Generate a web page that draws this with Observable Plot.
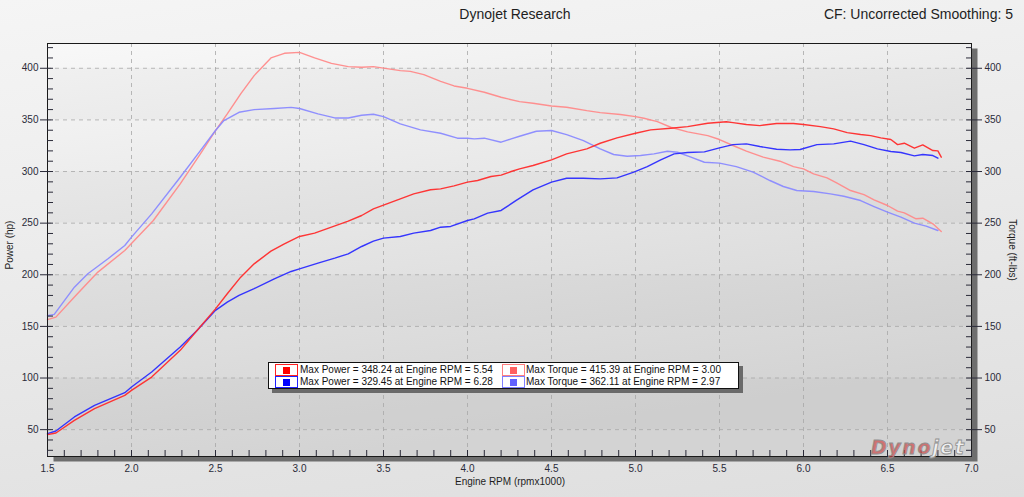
<!DOCTYPE html>
<html><head><meta charset="utf-8">
<script src="https://cdn.jsdelivr.net/npm/d3@7"></script>
<script src="https://cdn.jsdelivr.net/npm/@observablehq/plot@0.6"></script>
<style>
html,body{margin:0;padding:0;}
body{width:1024px;height:497px;overflow:hidden;background:linear-gradient(172deg,#f5f5f5 0%,#ebebeb 45%,#dedede 100%);font-family:"Liberation Sans",Arial,sans-serif;}
#wrap{position:relative;width:1024px;height:497px;}
#wrap svg{position:absolute;left:0;top:0;overflow:visible;}
.t{position:absolute;white-space:nowrap;color:#1e1e1e;line-height:1;}
#legend{position:absolute;left:268px;top:362px;width:469px;height:25px;background:#fff;border:1px solid #111;box-shadow:4px 4px 0 #6a6a6a;}
.sw{position:absolute;width:21px;height:10px;border:1px solid;}
.sw i{position:absolute;left:7px;top:2px;width:7px;height:7px;}
.lt{position:absolute;font-size:10px;line-height:12px;color:#111;white-space:nowrap;}
#logo{position:absolute;left:871px;top:436px;font:italic 900 19px "DejaVu Sans",sans-serif;letter-spacing:1.6px;white-space:nowrap;}
</style></head>
<body><div id="wrap"></div>
<script>
// ---- data ----
const torqueRedRpm = [1.50,1.55,1.66,1.80,1.96,2.13,2.29,2.41,2.50,2.57,2.65,2.73,2.83,2.91,3.00,3.09,3.19,3.29,3.37,3.44,3.52,3.60,3.66,3.74,3.84,3.92,4.00,4.10,4.20,4.31,4.39,4.50,4.59,4.71,4.79,4.91,5.00,5.05,5.13,5.21,5.31,5.43,5.50,5.58,5.66,5.76,5.86,5.94,6.00,6.06,6.14,6.20,6.28,6.36,6.42,6.50,6.56,6.60,6.67,6.71,6.77,6.82];
const torqueRed    = [156.5,159,178.4,202.6,223.5,252.6,288,317,339.7,355.8,375.2,392.9,410,414.5,415.4,410,404.8,401.6,401,401.6,399.7,397.7,397,393.9,387.4,382.9,380.6,376.8,371.9,367.7,366.1,363.5,362.3,359,357.1,355.2,353.2,351.6,348.4,342.9,338.4,334.8,331,325.2,319.7,313.9,310,304.8,302.6,297.7,293.9,288.7,281.6,277.7,272.6,267.1,261.6,260,254.2,254.8,249.4,241.9];

const torqueBlueRpm = [1.50,1.54,1.66,1.74,1.86,1.96,2.00,2.12,2.29,2.41,2.50,2.55,2.64,2.73,2.85,2.95,3.00,3.11,3.21,3.29,3.37,3.44,3.50,3.60,3.72,3.84,3.94,4.00,4.04,4.10,4.20,4.26,4.31,4.41,4.50,4.59,4.69,4.79,4.87,4.95,5.03,5.11,5.19,5.25,5.33,5.41,5.50,5.60,5.70,5.80,5.88,5.96,6.06,6.16,6.24,6.34,6.42,6.50,6.58,6.66,6.73,6.80];
const torqueBlue    = [160.3,161.6,188,201,215.5,228.4,236.5,259,294.5,320.3,339.7,349.4,357.4,360,361,362.1,361,355.8,351.9,351.9,354.5,355.5,353.2,346.1,340.3,337.1,332.3,332.3,331.6,332.3,328.4,331.6,334.2,339,339.7,335.8,330,321.9,316.5,314.8,315.5,317.1,319.7,318.7,313.9,309,308.1,304.8,299.4,291.3,285.5,281.6,280.6,278.4,276.1,271.9,266.1,260.6,255.8,250,247.1,242.9];

const powerRedRpm = [1.50,1.55,1.66,1.78,1.96,2.00,2.12,2.29,2.39,2.50,2.57,2.65,2.73,2.83,2.91,3.00,3.09,3.19,3.29,3.37,3.44,3.52,3.60,3.68,3.78,3.84,3.92,4.00,4.06,4.14,4.20,4.26,4.31,4.39,4.50,4.59,4.71,4.79,4.89,5.00,5.09,5.21,5.31,5.43,5.54,5.58,5.66,5.74,5.84,5.94,6.00,6.10,6.18,6.26,6.34,6.40,6.46,6.52,6.56,6.60,6.66,6.71,6.77,6.80,6.82];
const powerRed    = [45.2,46.8,59,70.3,83.2,88,100.9,126.8,146,167,181.6,197.7,210.6,222.9,230,237.1,240.3,246.1,251.9,257.4,263.9,268.7,273.5,278.4,282.3,283.2,286.1,289.7,291.3,295.2,296.5,300,302.6,305.8,311.3,317.1,322,327.4,332.6,337.1,340.3,341.9,343.5,346.8,348.2,347.4,345.5,344.5,346.5,346.5,345.5,343.5,341.3,337.7,335.8,334.8,332.6,331,326.1,327.4,322.6,325.8,320.3,320,313.9];

const powerBlueRpm = [1.50,1.55,1.66,1.78,1.96,2.00,2.12,2.29,2.39,2.50,2.57,2.64,2.73,2.85,2.95,3.00,3.11,3.21,3.29,3.37,3.44,3.50,3.60,3.68,3.78,3.84,3.90,4.00,4.04,4.12,4.20,4.29,4.39,4.50,4.59,4.69,4.79,4.89,4.99,5.07,5.15,5.23,5.31,5.41,5.50,5.58,5.66,5.74,5.84,5.92,5.98,6.08,6.18,6.28,6.36,6.44,6.52,6.58,6.66,6.71,6.77,6.80];
const powerBlue    = [46.1,48.7,62.3,73.5,85.8,91.3,105.8,130,146,165.5,173.5,180,186.5,196.1,203.2,205.8,211.3,216.1,220.3,227.4,232.6,235.5,237.1,240.3,242.9,246.1,246.8,252.6,254.2,259.7,262.3,272,282.3,289.7,293.5,293.5,292.9,293.9,299.4,304.8,311.3,317.1,318.4,319,322.9,326.1,326.8,324.2,321.6,321,321.3,326.1,326.8,329.4,326.1,321.9,319.4,318.4,315.2,316.5,315.5,312.9];

const seriesNames  = ["Torque run 1","Torque run 2","Power run 2","Power run 1"];
const seriesColors = ["#ff8a8a","#8a8aff","#2b2bff","#ff2b2b"];

const xTickLabels = [1.5,2.0,2.5,3.0,3.5,4.0,4.5,5.0,5.5,6.0,6.5,7.0];
const xGridTicks  = [2.0,2.5,3.0,3.5,4.0,4.5,5.0,5.5,6.0,6.5];
const yTickLabels = [50,100,150,200,250,300,350,400];
const yDarkBands  = [50,150,250,350];

const legendLabels = ["Max Power = 348.24 at Engine RPM = 5.54","Max Torque = 415.39 at Engine RPM = 3.00","Max Power = 329.45 at Engine RPM = 6.28","Max Torque = 362.11 at Engine RPM = 2.97"];
const legendBorder = ["#ff2020","#ff8080","#2020ff","#8080ff"];
const legendFill   = ["#ff0000","#ff6060","#0000ff","#6060ff"];

// ---- build ----
const xDomain = [1.5, 7.0];
const yDomain = [24, 424];
const xMinorTicks = d3.range(15, 71).map(d => d / 10);
const yMinorTicks = d3.range(30, 421, 10);

const runs = [
  [seriesNames[0], torqueRedRpm, torqueRed],
  [seriesNames[1], torqueBlueRpm, torqueBlue],
  [seriesNames[2], powerBlueRpm, powerBlue],
  [seriesNames[3], powerRedRpm, powerRed]
];
const rows = runs.flatMap(([name, rpm, v]) => rpm.map((r, i) => ({rpm: r, value: v[i], series: name})));

const plot = Plot.plot({
  width: 1024, height: 497,
  marginLeft: 47, marginRight: 53, marginTop: 43, marginBottom: 41,
  x: {domain: xDomain},
  y: {domain: yDomain},
  color: {domain: seriesNames, range: seriesColors},
  style: {background: "transparent", fontFamily: "'Liberation Sans', Arial, sans-serif", fontSize: "10px", color: "#2a2a38"},
  marks: [
    Plot.frame({fill: "#6e6e6e", dx: 6, dy: 5}),
    Plot.frame({fill: "url(#plotGrad)"}),
    Plot.rect(yDarkBands, {x1: xDomain[0], x2: xDomain[1], y1: d => d, y2: d => d + 50, fill: "#000", fillOpacity: 0.022}),
    Plot.ruleX(xGridTicks, {stroke: "#a8a8a8", strokeOpacity: 0.8, strokeDasharray: "4,4"}),
    Plot.ruleY(yTickLabels, {stroke: "#a8a8a8", strokeOpacity: 0.8, strokeDasharray: "4,4"}),
    Plot.line(rows, {x: "rpm", y: "value", z: "series", stroke: "series", strokeWidth: 1.4, strokeOpacity: 0.95}),
    Plot.frame({stroke: "#1a1a1a"}),
    Plot.axisY(yTickLabels, {anchor: "left", tickSize: 7, tickPadding: 2, label: null}),
    Plot.axisY(yMinorTicks, {anchor: "left", tickSize: 6, dx: 6, text: null, label: null}),
    Plot.axisY(yTickLabels, {anchor: "right", tickSize: 10, tickPadding: 3, label: null}),
    Plot.axisY(yMinorTicks, {anchor: "right", tickSize: 6, dx: -6, text: null, label: null}),
    Plot.axisX(xMinorTicks, {anchor: "bottom", tickSize: 6, dy: -6, text: null, label: null}),
    Plot.axisX(xTickLabels, {anchor: "bottom", tickSize: 0, tickPadding: 8, tickFormat: d => d.toFixed(1), label: null})
  ]
});

const defs = d3.select(plot).insert("defs", ":first-child");
const grad = defs.append("linearGradient").attr("id", "plotGrad").attr("x1", 0).attr("y1", 0).attr("x2", 0.3).attr("y2", 1);
grad.append("stop").attr("offset", "0%").attr("stop-color", "#f8f8f8");
grad.append("stop").attr("offset", "100%").attr("stop-color", "#d3d3d3");

const wrap = document.getElementById("wrap");
wrap.appendChild(plot);

function addText(txt, css) {
  const d = document.createElement("div");
  d.className = "t";
  d.textContent = txt;
  Object.assign(d.style, css);
  wrap.appendChild(d);
  return d;
}
addText("Dynojet Research", {left: "515px", top: "7px", fontSize: "14px", transform: "translateX(-50%)"});
addText("CF: Uncorrected Smoothing: 5", {right: "11px", top: "7px", fontSize: "14px"});
addText("Engine RPM (rpmx1000)", {left: "510px", top: "477px", fontSize: "10px", transform: "translateX(-50%)"});
addText("Power (hp)", {left: "10px", top: "245px", fontSize: "10px", transform: "translate(-50%,-50%) rotate(-90deg)"});
addText("Torque (ft-lbs)", {left: "1012px", top: "250px", fontSize: "10px", transform: "translate(-50%,-50%) rotate(90deg)"});

// legend
const legend = document.createElement("div");
legend.id = "legend";
legendLabels.forEach((lab, i) => {
  const col = i % 2, row = Math.floor(i / 2);
  const sw = document.createElement("div");
  sw.className = "sw";
  sw.style.left = (col ? 233 : 6) + "px";
  sw.style.top = (row ? 13 : 1) + "px";
  sw.style.borderColor = legendBorder[i];
  const inner = document.createElement("i");
  inner.style.background = legendFill[i];
  sw.appendChild(inner);
  legend.appendChild(sw);
  const t = document.createElement("div");
  t.className = "lt";
  t.textContent = lab;
  t.style.left = (col ? 257 : 31) + "px";
  t.style.top = (row ? 13 : 1) + "px";
  legend.appendChild(t);
});
wrap.appendChild(legend);

// watermark
const logo = document.createElement("div");
logo.id = "logo";
logo.innerHTML = '<span style="color:rgba(205,70,70,0.7);-webkit-text-stroke:0.8px #909090">Dyno</span><span style="color:rgba(245,245,245,0.85);-webkit-text-stroke:0.8px #909090">jet</span>';
wrap.appendChild(logo);
</script>
</body></html>
